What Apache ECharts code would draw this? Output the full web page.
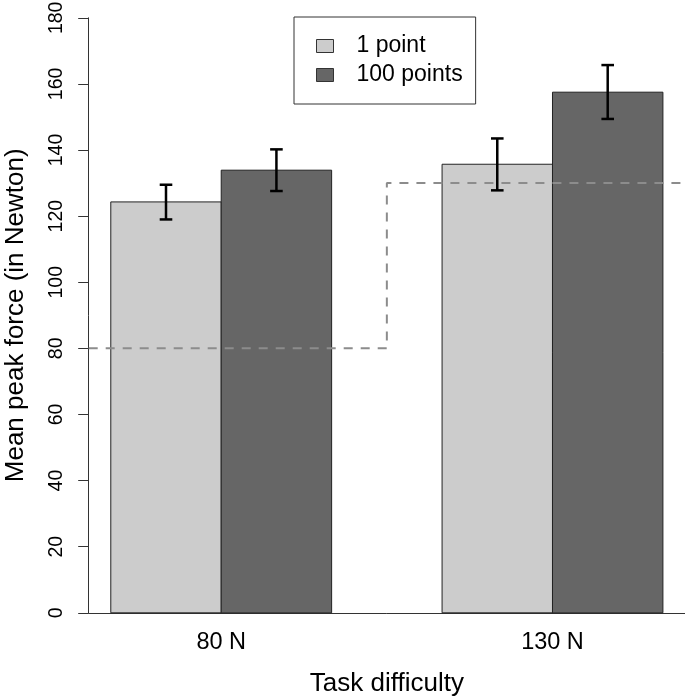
<!DOCTYPE html>
<html><head><meta charset="utf-8">
<script src="https://cdn.jsdelivr.net/npm/echarts@6/dist/echarts.min.js"></script>
<style>html,body{margin:0;padding:0;background:#fff}#c{width:685px;height:700px}</style>
</head><body><div id="c"></div>
<script>
// ---- data ----
const categories = ['80 N', '130 N'];
const seriesNames = ['1 point', '100 points'];
const meanOnePoint = [124.3, 135.7];
const meanHundredPoints = [133.9, 157.5];
const lowerOnePoint = [119.0, 127.8];
const upperOnePoint = [129.5, 143.5];
const lowerHundredPoints = [127.6, 149.4];
const upperHundredPoints = [140.2, 165.7];
const targetForce = [80, 130];
const yTickValues = [0, 20, 40, 60, 80, 100, 120, 140, 160, 180];

// ---- layout (R barplot style: space = c(0,1), usr extended 4%) ----
const FONT = 'Liberation Sans, Arial, Helvetica, sans-serif';
const X_MIN = 0.8, X_MAX = 6.2;
const fills = ['#cccccc', '#666666'];
const means = [meanOnePoint, meanHundredPoints];
const lowers = [lowerOnePoint, lowerHundredPoints];
const uppers = [upperOnePoint, upperHundredPoints];
function barLeft(g, s) { return 1 + g * 3 + s; }
function groupCenter(g) { return barLeft(g, 0) + 1; }

const barSeries = seriesNames.map((name, s) => ({
  name: name,
  type: 'custom',
  z: 2,
  itemStyle: { color: fills[s], borderColor: '#222', borderWidth: 1 },
  data: categories.map((c, g) => [g, means[s][g]]),
  renderItem: function (params, api) {
    const g = api.value(0), m = api.value(1);
    const p0 = api.coord([barLeft(g, s), m]);
    const p1 = api.coord([barLeft(g, s) + 1, 0]);
    return {
      type: 'rect',
      shape: { x: p0[0], y: p0[1], width: p1[0] - p0[0], height: p1[1] - p0[1] },
      style: { fill: fills[s], stroke: '#222', lineWidth: 1 }
    };
  }
}));

const errData = [];
seriesNames.forEach((n, s) => categories.forEach((c, g) => errData.push([g, s, lowers[s][g], uppers[s][g]])));

const errSeries = {
  type: 'custom',
  z: 5,
  silent: true,
  data: errData,
  renderItem: function (params, api) {
    const g = api.value(0), s = api.value(1);
    const cx = barLeft(g, s) + 0.5;
    const lo = api.coord([cx, api.value(2)]);
    const hi = api.coord([cx, api.value(3)]);
    const hw = 6.3;
    const st = { stroke: '#000', lineWidth: 2.5 };
    return {
      type: 'group',
      children: [
        { type: 'line', shape: { x1: lo[0], y1: lo[1], x2: hi[0], y2: hi[1] }, style: st },
        { type: 'line', shape: { x1: lo[0] - hw, y1: lo[1], x2: lo[0] + hw, y2: lo[1] }, style: st },
        { type: 'line', shape: { x1: hi[0] - hw, y1: hi[1], x2: hi[0] + hw, y2: hi[1] }, style: st }
      ]
    };
  }
};

// step line of target force: each group spans to the mid-point between groups
const stepData = [];
targetForce.forEach((t, g) => {
  const start = g === 0 ? X_MIN : (barLeft(g - 1, 1) + 1 + barLeft(g, 0)) / 2;
  const end = g === targetForce.length - 1 ? X_MAX : (barLeft(g, 1) + 1 + barLeft(g + 1, 0)) / 2;
  stepData.push([start, t], [end, t]);
});

const lineSeries = {
  type: 'line',
  z: 4,
  silent: true,
  showSymbol: false,
  symbol: 'none',
  data: stepData,
  lineStyle: { color: '#8c8c8c', width: 2, type: [9, 8] }
};

const chart = echarts.init(document.getElementById('c'), null, { renderer: 'canvas' });
chart.setOption({
  animation: false,
  backgroundColor: '#fff',
  grid: { left: 88.7, right: 0, top: 17.8, bottom: 87.2, containLabel: false, outerBoundsMode: 'none' },
  legend: {
    left: 294, top: 17, orient: 'vertical',
    borderColor: '#333', borderWidth: 1, backgroundColor: '#fff',
    padding: [16, 13, 16, 22],
    itemWidth: 17, itemHeight: 13, itemGap: 3,
    icon: 'rect',
    selectedMode: false,
    textStyle: { fontSize: 23, fontFamily: FONT, color: '#000', padding: [0, 0, 0, 18], lineHeight: 26 },
    data: seriesNames.map((n, s) => ({ name: n, icon: 'rect', itemStyle: { color: fills[s], borderColor: '#333', borderWidth: 1 } }))
  },
  xAxis: {
    type: 'value', min: X_MIN, max: X_MAX,
    axisLine: { show: true, onZero: false, lineStyle: { color: '#333', width: 1 } },
    axisTick: { show: false },
    splitLine: { show: false },
    axisLabel: {
      customValues: categories.map((c, g) => groupCenter(g)),
      formatter: v => categories[Math.round((v - groupCenter(0)) / 3)],
      fontSize: 23.5, fontFamily: FONT, color: '#000', margin: 18
    },
    name: 'Task difficulty', nameLocation: 'middle', nameGap: 58,
    nameTextStyle: { fontSize: 26, fontFamily: FONT, color: '#000' }
  },
  yAxis: {
    type: 'value', min: 0, max: 180, interval: 20,
    axisLine: { show: true, lineStyle: { color: '#333', width: 1 } },
    axisTick: { show: true, length: 10.5, lineStyle: { color: '#333', width: 1 } },
    splitLine: { show: false },
    axisLabel: {
      rotate: 90, fontSize: 19.5, fontFamily: FONT, color: '#000', margin: 22,
      formatter: v => String(yTickValues[yTickValues.indexOf(v)])
    },
    name: 'Mean peak force (in Newton)', nameLocation: 'middle', nameGap: 60,
    nameTextStyle: { fontSize: 26, fontFamily: FONT, color: '#000' }
  },
  series: [...barSeries, lineSeries, errSeries]
});
</script></body></html>
